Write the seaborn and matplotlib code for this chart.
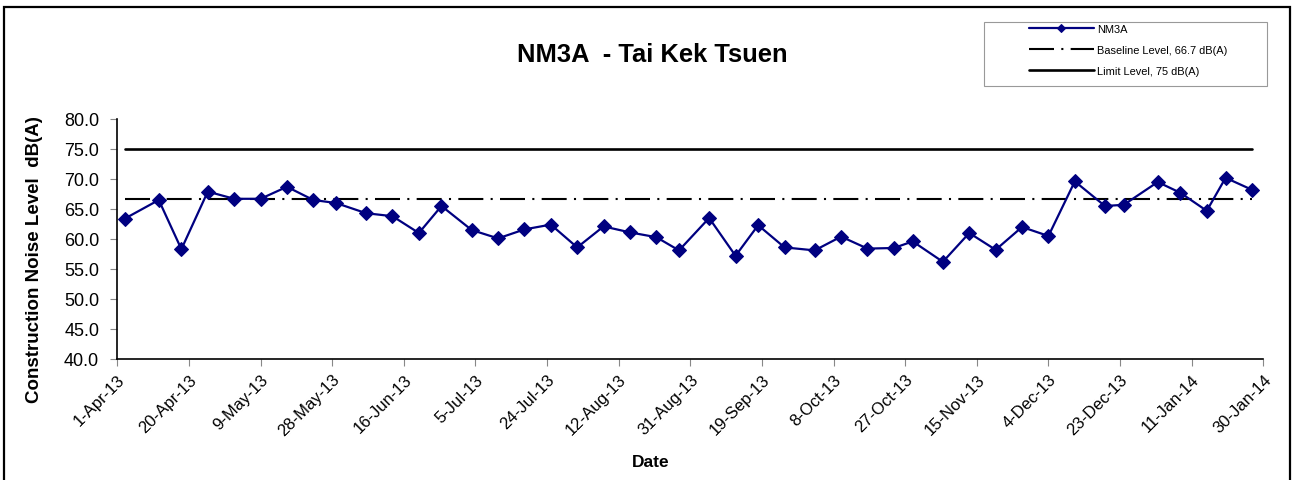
import pandas as pd
import matplotlib.pyplot as plt
import matplotlib.dates as mdates
from matplotlib.patches import Rectangle
import seaborn as sns

# data
dates = ['2013-04-03', '2013-04-12', '2013-04-18', '2013-04-25', '2013-05-02',
         '2013-05-09', '2013-05-16', '2013-05-23', '2013-05-29', '2013-06-06',
         '2013-06-13', '2013-06-20', '2013-06-26', '2013-07-04', '2013-07-11',
         '2013-07-18', '2013-07-25', '2013-08-01', '2013-08-08', '2013-08-15',
         '2013-08-22', '2013-08-28', '2013-09-05', '2013-09-12', '2013-09-18',
         '2013-09-25', '2013-10-03', '2013-10-10', '2013-10-17', '2013-10-24',
         '2013-10-29', '2013-11-06', '2013-11-13', '2013-11-20', '2013-11-27',
         '2013-12-04', '2013-12-11', '2013-12-19', '2013-12-24', '2014-01-02',
         '2014-01-08', '2014-01-15', '2014-01-20', '2014-01-27']
nm3a = [63.4, 66.5, 58.3, 67.9, 66.7, 66.7, 68.7, 66.5, 66.0, 64.3,
        63.8, 61.0, 65.5, 61.5, 60.1, 61.6, 62.4, 58.6, 62.1, 61.1,
        60.3, 58.1, 63.5, 57.2, 62.3, 58.6, 58.1, 60.4, 58.4, 58.5,
        59.6, 56.2, 61.0, 58.2, 62.0, 60.5, 69.6, 65.5, 65.7, 69.5,
        67.7, 64.7, 70.2, 68.2]
baseline_level = 66.7
limit_level = 75

df = pd.DataFrame({'Date': pd.to_datetime(dates), 'NM3A': nm3a})
df['Baseline'] = baseline_level
df['Limit'] = limit_level

sns.set_theme(style="white")
plt.rcParams['font.family'] = ['Liberation Sans', 'DejaVu Sans']
plt.rcParams['text.color'] = 'black'
plt.rcParams['axes.labelcolor'] = 'black'

fig = plt.figure(figsize=(12.95, 4.81), dpi=100)
ax = fig.add_axes([117.3 / 1295, 1 - 360 / 481, 1146 / 1295, 240 / 481])

sns.lineplot(data=df, x='Date', y='Limit', ax=ax, color='black', linewidth=1.9,
             label='Limit Level, 75 dB(A)')
sns.lineplot(data=df, x='Date', y='Baseline', ax=ax, color='black', linewidth=1.5,
             dashes=False, label='Baseline Level, 66.7 dB(A)')
ax.lines[-1].set_dashes((12, 3.5, 1, 3.5))
sns.lineplot(data=df, x='Date', y='NM3A', ax=ax, color='#000080', linewidth=1.6,
             marker='D', markersize=7.5, markeredgecolor='#000080', label='NM3A')

if ax.get_legend() is not None:
    ax.get_legend().remove()

# axes
ax.set_xlim(pd.Timestamp('2013-04-01'), pd.Timestamp('2014-01-30'))
ax.set_ylim(40, 80)
ax.set_yticks(range(40, 81, 5))
ax.yaxis.set_major_formatter(plt.FormatStrFormatter('%.1f'))
ax.set_xticks(pd.date_range('2013-04-01', '2014-01-30', freq='19D'))
ax.xaxis.set_major_formatter(mdates.DateFormatter('%-d-%b-%y'))
for s in ['top', 'right']:
    ax.spines[s].set_visible(False)
for s in ['left', 'bottom']:
    ax.spines[s].set_color('black')
    ax.spines[s].set_linewidth(1.2)
ax.tick_params(axis='both', which='major', length=5, width=0.8, color='#888888',
               labelcolor='black', bottom=True, left=True)
ax.tick_params(axis='y', pad=8, labelsize=13)
ax.tick_params(axis='x', pad=4, labelsize=12)
plt.setp(ax.get_xticklabels(), rotation=45, ha='right', rotation_mode='anchor')

ax.set_ylabel('Construction Noise Level  dB(A)', fontsize=13.5, fontweight='bold')
ax.yaxis.set_label_coords(-0.0648, 0.42)
ax.set_xlabel('Date', fontsize=12.5, fontweight='bold')
ax.xaxis.set_label_coords(0.465, -0.395)

fig.text(652 / 1295, 1 - 55 / 481, 'NM3A  - Tai Kek Tsuen', ha='center', va='center',
         fontsize=18.4, fontweight='bold')

# legend with its own grey box
handles, labels = ax.get_legend_handles_labels()
order = [labels.index('NM3A'), labels.index('Baseline Level, 66.7 dB(A)'),
         labels.index('Limit Level, 75 dB(A)')]
leg = fig.legend([handles[i] for i in order], [labels[i] for i in order],
                 loc='upper left', bbox_to_anchor=(1029 / 1295, 1 - 25 / 481),
                 frameon=False, fontsize=7.9, handlelength=5.9, handletextpad=0.3,
                 labelspacing=1.0, borderpad=0, borderaxespad=0, numpoints=1)
leg.legend_handles[0].set_markersize(4)
fig.add_artist(Rectangle((984 / 1295, 1 - 87 / 481), 283 / 1295, 64 / 481,
                         transform=fig.transFigure, fill=False,
                         edgecolor='#999999', linewidth=0.8))

# outer chart border
fig.add_artist(Rectangle((4 / 1295, -0.02), 1286 / 1295, 1.02 - 8 / 481,
                         transform=fig.transFigure, fill=False,
                         edgecolor='black', linewidth=1.6))

fig.savefig('out.png', dpi=100)
